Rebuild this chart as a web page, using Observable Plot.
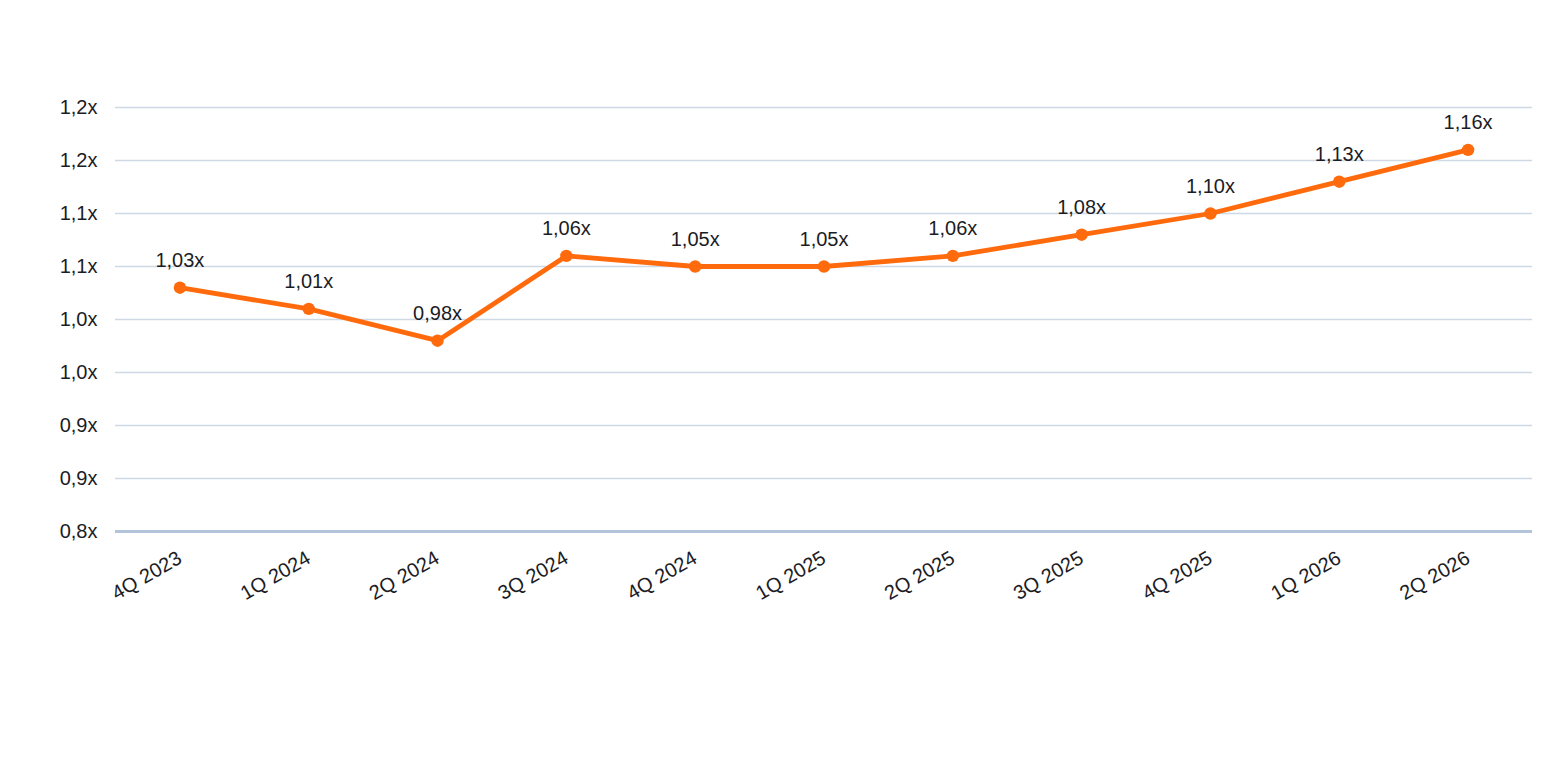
<!DOCTYPE html>
<html>
<head>
<meta charset="utf-8">
<script src="https://cdn.jsdelivr.net/npm/d3@7"></script>
<script src="https://cdn.jsdelivr.net/npm/@observablehq/plot@0.6"></script>
<style>
  html, body { margin: 0; padding: 0; background: #fff; }
  svg { font-family: "Liberation Sans", Arial, sans-serif; }
</style>
</head>
<body>
<div id="chart"></div>
<script>
const quarters = ["4Q 2023","1Q 2024","2Q 2024","3Q 2024","4Q 2024","1Q 2025","2Q 2025","3Q 2025","4Q 2025","1Q 2026","2Q 2026"];
const values = [1.03, 1.01, 0.98, 1.06, 1.05, 1.05, 1.06, 1.08, 1.10, 1.13, 1.16];
const valueLabels = ["1,03x","1,01x","0,98x","1,06x","1,05x","1,05x","1,06x","1,08x","1,10x","1,13x","1,16x"];
const yTicks = [0.8, 0.85, 0.9, 0.95, 1.0, 1.05, 1.1, 1.15, 1.2];
const yTickLabels = ["0,8x","0,9x","0,9x","1,0x","1,0x","1,1x","1,1x","1,2x","1,2x"];

const data = quarters.map((q, i) => ({q, v: values[i], label: valueLabels[i]}));
const gridTicks = yTicks.slice(1);

const chart = Plot.plot({
  width: 1564,
  height: 757,
  marginTop: 107,
  marginBottom: 226,
  marginLeft: 115,
  marginRight: 32,
  style: {fontFamily: "'Liberation Sans', Arial, sans-serif", fontSize: "20px", color: "#1c1c24"},
  x: {type: "point", domain: quarters, padding: 0.5, round: false, label: null},
  y: {domain: [0.8, 1.2], label: null},
  marks: [
    Plot.ruleY(gridTicks, {stroke: "#cfd9e5", strokeWidth: 1.5}),
    Plot.ruleY([0.8], {stroke: "#b3c3d9", strokeWidth: 3}),
    Plot.axisY({ticks: yTicks, tickFormat: (d) => yTickLabels[yTicks.indexOf(d)], tickSize: 0, tickPadding: 18, fontSize: 20, fill: "#1c1c24", label: null}),
    Plot.axisX({tickRotate: -30, tickSize: 0, tickPadding: 25, fontSize: 20, fill: "#1c1c24", label: null}),
    Plot.line(data, {x: "q", y: "v", stroke: "#ff6a0d", strokeWidth: 4.8}),
    Plot.dot(data, {x: "q", y: "v", fill: "#ff6a0d", r: 6.2}),
    Plot.text(data, {x: "q", y: "v", text: "label", dy: -27, fontSize: 20, fill: "#1c1c24"})
  ]
});
document.getElementById("chart").appendChild(chart);
</script>
</body>
</html>
